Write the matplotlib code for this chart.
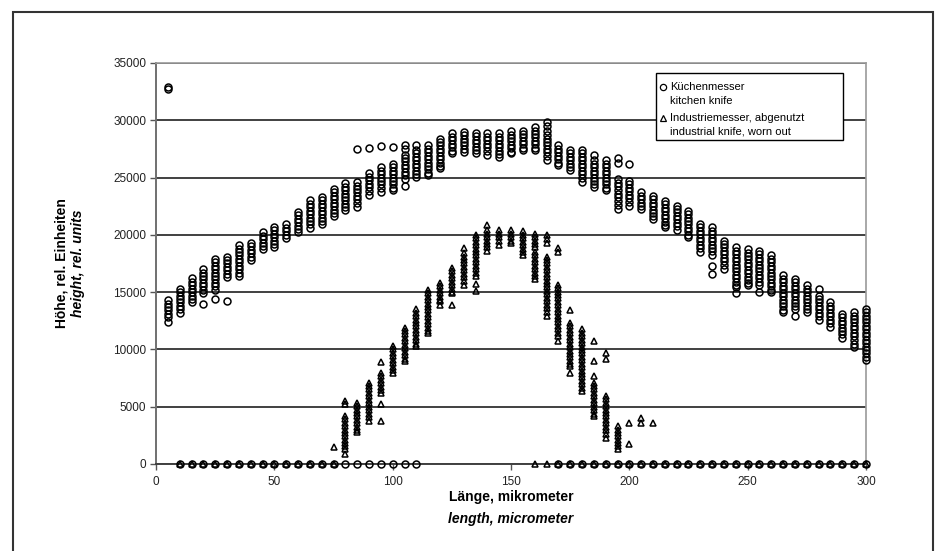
import matplotlib.pyplot as plt
from matplotlib.lines import Line2D
from matplotlib.patches import Rectangle

plt.rcParams['font.family'] = ['Liberation Sans', 'DejaVu Sans']

# Küchenmesser / kitchen knife: x position (micrometer) and y values per column
kitchen_x = [5, 10, 15, 20, 25, 30, 35, 40, 45, 50, 55, 60, 65, 70, 75, 80, 85, 90, 95, 100,
             105, 110, 115, 120, 125, 130, 135, 140, 145, 150, 155, 160, 165, 170, 175, 180,
             185, 190, 195, 200, 205, 210, 215, 220, 225, 230, 235, 240, 245, 250, 255, 260,
             265, 270, 275, 280, 285, 290, 295, 300]
kitchen_y = [
    [32900, 32700, 14300, 14000, 13700, 13400, 13100, 12800, 12400],
    [15300, 15000, 14700, 14400, 14100, 13800, 13500, 13200],
    [16200, 15900, 15600, 15300, 15000, 14700, 14400, 14100],
    [17000, 16700, 16400, 16100, 15800, 15500, 15200, 14900, 13950],
    [17900, 17600, 17300, 17000, 16700, 16400, 16100, 15800, 15500, 15200, 14400],
    [18100, 17800, 17500, 17200, 16900, 16600, 16300, 14250],
    [19100, 18800, 18500, 18200, 17900, 17600, 17300, 17000, 16700, 16400],
    [19300, 19000, 18700, 18400, 18100, 17800],
    [20200, 19900, 19600, 19300, 19000, 18800],
    [20700, 20400, 20100, 19800, 19500, 19200, 18950],
    [20900, 20600, 20300, 20000, 19700],
    [22000, 21700, 21400, 21100, 20800, 20500, 20200],
    [23000, 22700, 22400, 22100, 21800, 21500, 21200, 20900, 20600],
    [23300, 23000, 22700, 22400, 22100, 21800, 21500, 21200, 20900],
    [24000, 23700, 23400, 23100, 22800, 22500, 22200, 21900, 21600],
    [24500, 24200, 23900, 23600, 23300, 23000, 22700, 22400, 22150],
    [27500, 24600, 24300, 24000, 23700, 23400, 23100, 22800, 22450],
    [27600, 25350, 25050, 24750, 24450, 24150, 23850, 23500],
    [27750, 25900, 25600, 25300, 25000, 24700, 24400, 24100, 23750],
    [27650, 26200, 25900, 25600, 25300, 25000, 24700, 24400, 24100, 23900],
    [27800, 27500, 27000, 26700, 26400, 26100, 25800, 25500, 25200, 24900, 24300],
    [27800, 27400, 27100, 26800, 26500, 26200, 25900, 25600, 25300, 25050],
    [27800, 27500, 27200, 26900, 26600, 26300, 26000, 25700, 25400, 25200],
    [28400, 28100, 27800, 27500, 27200, 26900, 26600, 26300, 26000, 25800],
    [28850, 28550, 28250, 27950, 27650, 27350, 27100],
    [29000, 28700, 28400, 28100, 27800, 27500, 27200],
    [28900, 28600, 28300, 28000, 27700, 27400, 27150],
    [28850, 28550, 28250, 27950, 27650, 27350, 27000],
    [28850, 28550, 28250, 27950, 27650, 27350, 27050, 26800],
    [29050, 28750, 28450, 28150, 27850, 27550, 27250, 27100],
    [29100, 28800, 28500, 28200, 27900, 27600, 27400],
    [29400, 29100, 28800, 28500, 28200, 27900, 27600, 27400],
    [29850, 29500, 29100, 28700, 28400, 28100, 27800, 27500, 27200, 26900, 26500],
    [27800, 27500, 27200, 26900, 26600, 26300, 26100],
    [27400, 27100, 26800, 26500, 26200, 25900, 25650],
    [27400, 27100, 26800, 26500, 26200, 25900, 25600, 25300, 25000, 24600],
    [26950, 26500, 26200, 25900, 25600, 25300, 25000, 24700, 24400, 24200],
    [26500, 26200, 25900, 25600, 25300, 25000, 24700, 24400, 24100, 23900],
    [26700, 26300, 24850, 24550, 24250, 23950, 23600, 23300, 22950, 22600, 22250],
    [26160, 24700, 24400, 24100, 23800, 23500, 23200, 22900, 22550],
    [23700, 23400, 23100, 22800, 22500, 22250],
    [23400, 23100, 22800, 22500, 22200, 21900, 21600, 21400],
    [22950, 22650, 22350, 22050, 21750, 21450, 21150, 20850, 20650],
    [22550, 22250, 21950, 21650, 21350, 21050, 20750, 20400],
    [22100, 21800, 21500, 21200, 20900, 20600, 20300, 20000, 19800],
    [20950, 20650, 20350, 20050, 19750, 19450, 19150, 18850, 18500],
    [20650, 20350, 20050, 19750, 19450, 19150, 18850, 18550, 18200, 17300, 16600],
    [19500, 19200, 18900, 18600, 18300, 18000, 17700, 17400, 17050],
    [18900, 18600, 18300, 18000, 17700, 17400, 17100, 16800, 16500, 16200, 15900, 15600, 15430, 14950],
    [18750, 18450, 18150, 17850, 17550, 17250, 16950, 16650, 16350, 16050, 15750, 15580],
    [18600, 18300, 18000, 17700, 17400, 17100, 16800, 16500, 16200, 15900, 15600, 15000],
    [18200, 17900, 17600, 17300, 17000, 16700, 16400, 16100, 15800, 15500, 15200, 15000],
    [16450, 16150, 15850, 15550, 15250, 14950, 14650, 14350, 14050, 13750, 13450, 13250],
    [16150, 15850, 15550, 15250, 14950, 14650, 14350, 14050, 13750, 13550, 12950],
    [15600, 15300, 15000, 14700, 14400, 14100, 13800, 13500, 13250],
    [15300, 14700, 14400, 14100, 13800, 13500, 13200, 12900, 12550],
    [14100, 13800, 13500, 13200, 12900, 12600, 12300, 11950],
    [13100, 12800, 12500, 12200, 11900, 11600, 11300, 10950],
    [13250, 12950, 12650, 12350, 12050, 11750, 11450, 11150, 10850, 10500, 10200],
    [13550, 13250, 12950, 12650, 12350, 12050, 11750, 11450, 11150, 10850, 10550,
     10250, 9950, 9650, 9350, 9050],
]

# Industriemesser, abgenutzt / industrial knife, worn out
industrial_x = [75, 80, 85, 90, 95, 100, 105, 110, 115, 120, 125, 130, 135, 140, 145, 150,
                155, 160, 165, 170, 175, 180, 185, 190, 195, 200, 205, 210]
industrial_y = [
    [1440],
    [5500, 5200, 4200, 3900, 3600, 3300, 3000, 2700, 2400, 2100, 1800, 1600, 1300, 850],
    [5350, 5050, 4750, 4450, 4150, 3850, 3550, 3250, 2950, 2750],
    [7100, 6800, 6500, 6200, 5900, 5600, 5300, 5000, 4700, 4400, 4100, 3760],
    [8900, 7950, 7650, 7350, 7050, 6750, 6450, 6200, 5200, 3750],
    [10300, 10000, 9700, 9400, 9100, 8800, 8500, 8200, 7950],
    [11900, 11600, 11300, 11000, 10700, 10400, 10100, 9800, 9500, 9200, 8980],
    [13500, 13200, 12900, 12600, 12300, 12000, 11700, 11400, 11100, 10800, 10500, 10300],
    [15200, 14900, 14600, 14300, 14000, 13700, 13400, 13100, 12800, 12500, 12200, 11900,
     11600, 11450],
    [15800, 15500, 15200, 14900, 14600, 14300, 14200, 13900],
    [17100, 16800, 16500, 16200, 15900, 15600, 15300, 15000, 14900, 13900],
    [18850, 18400, 18100, 17800, 17500, 17200, 16900, 16600, 16300, 16000, 15650],
    [20000, 19700, 19400, 19100, 18800, 18500, 18200, 17900, 17600, 17300, 17000, 16700,
     16400, 15700, 15100],
    [20850, 20400, 20100, 19800, 19500, 19200, 18900, 18550],
    [20400, 20100, 19800, 19500, 19150],
    [20400, 20100, 19800, 19500, 19250],
    [20300, 20000, 19700, 19400, 19100, 18800, 18500, 18250],
    [20100, 19800, 19500, 19200, 18900, 18500, 18200, 17900, 17600, 17300, 17000, 16700,
     16400, 16100],
    [20000, 19600, 19300, 18100, 17800, 17500, 17200, 16900, 16600, 16300, 16000, 15700,
     15400, 15100, 14800, 14500, 14200, 13900, 13600, 13300, 12900],
    [18850, 18500, 15650, 15350, 15050, 14750, 14450, 14150, 13850, 13550, 13250, 12950,
     12650, 12350, 12050, 11750, 11450, 11150, 10750],
    [13450, 12300, 12000, 11700, 11400, 11100, 10800, 10500, 10200, 9900, 9600, 9300,
     9000, 8700, 8550, 7950],
    [11750, 11450, 11150, 10850, 10550, 10250, 9950, 9650, 9350, 9050, 8750, 8450, 8150,
     7850, 7550, 7250, 6950, 6650, 6400],
    [10700, 9000, 7700, 7100, 6800, 6500, 6200, 5900, 5600, 5300, 5000, 4700, 4400, 4200],
    [9700, 9150, 5950, 5650, 5350, 5050, 4750, 4450, 4150, 3850, 3550, 3250, 2950, 2650, 2300],
    [3300, 3000, 2700, 2400, 2100, 1800, 1550, 1300],
    [3600, 1700],
    [4050, 3600],
    [3600],
]

# points sitting on the zero line
kitchen_zero_x = [10, 15, 20, 25, 30, 35, 40, 45, 50, 55, 60, 65, 70, 75, 80, 85, 90, 95,
                  100, 105, 110, 170, 175, 180, 185, 190, 195, 200, 205, 210, 215, 220, 225,
                  230, 235, 240, 245, 250, 255, 260, 265, 270, 275, 280, 285, 290, 295, 300]
industrial_zero_x = [10, 15, 20, 25, 30, 35, 40, 45, 50, 55, 60, 65, 70, 75, 160, 165, 170,
                     175, 180, 185, 190, 195, 200, 205, 210, 215, 220, 225, 230, 235, 240,
                     245, 250, 255, 260, 265, 270, 275, 280, 285, 290, 295, 300]

x_ticks = [0, 50, 100, 150, 200, 250, 300]
y_ticks = [0, 5000, 10000, 15000, 20000, 25000, 30000, 35000]


def flatten(xs, ys):
    px, py = [], []
    for x, col in zip(xs, ys):
        px += [x] * len(col)
        py += col
    return px, py


fig = plt.figure(figsize=(9.36, 5.51), dpi=100)
ax = fig.add_axes([0.1667, 0.158, 0.7585, 0.7278])

mk = dict(linestyle="none", markerfacecolor="none", markeredgecolor="black",
          markeredgewidth=1.1, markersize=5, clip_on=False, zorder=3)

kx, ky = flatten(kitchen_x, kitchen_y)
ix, iy = flatten(industrial_x, industrial_y)
ax.plot(kx, ky, marker="o", **mk)
ax.plot(ix, iy, marker="^", **mk)
ax.plot(kitchen_zero_x, [0] * len(kitchen_zero_x), marker="o", **mk)
ax.plot(industrial_zero_x, [0] * len(industrial_zero_x), marker="^", **mk)

ax.set_xlim(0, 300)
ax.set_ylim(0, 35000)
ax.set_xticks(x_ticks)
ax.set_yticks(y_ticks)
ax.tick_params(axis="both", direction="out", length=4, width=1, color="#555555",
               labelsize=8.5, labelcolor="#222222")
ax.tick_params(axis="y", pad=3)
ax.tick_params(axis="x", pad=5)

ax.yaxis.grid(True, color="#404040", linewidth=1.4)
ax.set_axisbelow(True)
for side in ["top", "right"]:
    ax.spines[side].set_color("#9a9a9a")
    ax.spines[side].set_linewidth(1.2)
ax.spines["left"].set_color("#707070")
ax.spines["left"].set_linewidth(1.4)
ax.spines["bottom"].set_color("#404040")
ax.spines["bottom"].set_linewidth(1.4)

# axis titles, two languages
fig.text(0.0662, 0.522, "Höhe, rel. Einheiten", rotation=90, ha="center", va="center",
         fontsize=10, fontweight="bold")
fig.text(0.0835, 0.522, "height, rel. units", rotation=90, ha="center", va="center",
         fontsize=10, fontweight="bold", style="italic")
fig.text(0.546, 0.098, "Länge, mikrometer", ha="center", va="center",
         fontsize=10, fontweight="bold")
fig.text(0.546, 0.058, "length, micrometer", ha="center", va="center",
         fontsize=10, fontweight="bold", style="italic")

# legend box
fig.add_artist(Rectangle((656 / 936, 1 - 140 / 551), 187 / 936, 67 / 551,
                         transform=fig.transFigure, facecolor="white",
                         edgecolor="black", linewidth=1.0, zorder=5))
leg_rows = [("o", "Küchenmesser", "kitchen knife", 87),
            ("^", "Industriemesser, abgenutzt", "industrial knife, worn out", 118)]
for m, l1, l2, ypix in leg_rows:
    fig.add_artist(Line2D([663 / 936], [1 - ypix / 551], marker=m, linestyle="none",
                          markerfacecolor="none", markeredgecolor="black",
                          markeredgewidth=0.9, markersize=4.5,
                          transform=fig.transFigure, zorder=6))
    fig.text(670 / 936, 1 - ypix / 551, l1, ha="left", va="center", fontsize=8, zorder=6)
    fig.text(670 / 936, 1 - (ypix + 14) / 551, l2, ha="left", va="center", fontsize=8,
             zorder=6)

# outer frame of the figure
fig.add_artist(Rectangle((13 / 936, -0.05), 920 / 936, 1.05 - 12 / 551,
                         transform=fig.transFigure, facecolor="none",
                         edgecolor="#333333", linewidth=1.5))

fig.savefig("out.png", dpi=100)
